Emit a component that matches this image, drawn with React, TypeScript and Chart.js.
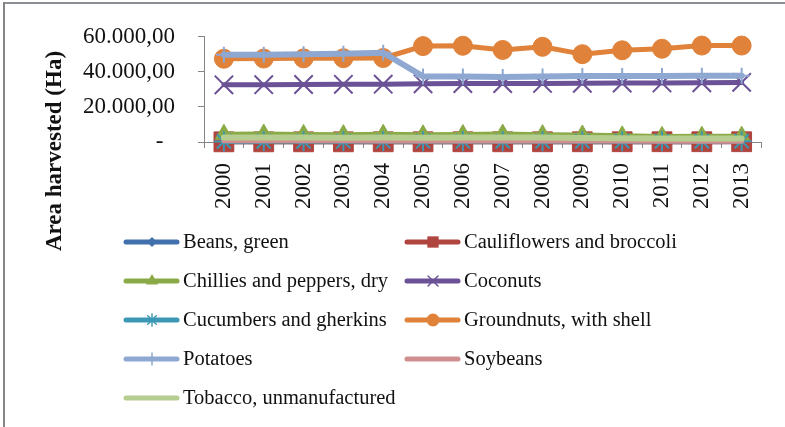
import React, { useEffect, useRef } from "react";
import { Chart, registerables } from "chart.js";

Chart.register(...registerables);

const years = ["2000","2001","2002","2003","2004","2005","2006","2007","2008","2009","2010","2011","2012","2013"];
const beans = [150, 150, 160, 170, 170, 180, 180, 190, 190, 200, 200, 210, 210, 220];
const cauliflowers = [100, 100, 110, 110, 120, 120, 130, 120, 130, 130, 140, 140, 150, 150];
const chillies = [4400, 4500, 4300, 4200, 4400, 4100, 4300, 4500, 4200, 4000, 3500, 3200, 3300, 3300];
const coconuts = [32600, 32700, 32800, 32900, 33000, 33200, 33300, 33300, 33400, 33500, 33600, 33700, 33800, 34000];
const cucumbers = [350, 360, 370, 380, 400, 410, 420, 430, 440, 450, 460, 470, 480, 490];
const groundnuts = [47500, 47600, 47700, 47800, 47900, 54700, 54900, 52500, 54300, 50100, 52300, 53200, 55000, 55000];
const potatoes = [49700, 49800, 50100, 50400, 50900, 37400, 37400, 37100, 37300, 37600, 37700, 37700, 37800, 37800];
const soybeans = [700, 650, 700, 650, 600, 600, 600, 550, 550, 500, 500, 450, 450, 450];
const tobacco = [2500, 2600, 2500, 2400, 2500, 2400, 2500, 2600, 2500, 2300, 2100, 2000, 2000, 2000];

const yTicks = [0, 20000, 40000, 60000];
const yTickLabels = ["-  ", "20.000,00", "40.000,00", "60.000,00"];
const yTitle = "Area harvested (Ha)";

type S = { label: string; data: number[]; color: string; style: string | false; r: number; lr: number; width: number };
const series: S[] = [
  { label: "Beans, green", data: beans, color: "#4170AC", style: "rectRot", r: 8, lr: 5, width: 5 },
  { label: "Cauliflowers and broccoli", data: cauliflowers, color: "#B0443F", style: "rect", r: 14, lr: 8, width: 5 },
  { label: "Chillies and peppers, dry", data: chillies, color: "#8AAA48", style: "triangle", r: 10, lr: 7, width: 5 },
  { label: "Coconuts", data: coconuts, color: "#6B5195", style: "crossRot", r: 13, lr: 7, width: 5 },
  { label: "Cucumbers and gherkins", data: cucumbers, color: "#3C98B3", style: "star", r: 10, lr: 6, width: 5 },
  { label: "Groundnuts, with shell", data: groundnuts, color: "#E0823A", style: "circle", r: 9.5, lr: 6.5, width: 5 },
  { label: "Potatoes", data: potatoes, color: "#8EA8D1", style: "cross", r: 8, lr: 6, width: 6 },
  { label: "Soybeans", data: soybeans, color: "#D08F8E", style: false, r: 0, lr: 0, width: 5 },
  { label: "Tobacco, unmanufactured", data: tobacco, color: "#B5CD8F", style: false, r: 0, lr: 0, width: 6 },
];

function drawMarker(ctx: CanvasRenderingContext2D, style: string | false, x: number, y: number, r: number, color: string) {
  if (!style) return;
  ctx.save();
  ctx.fillStyle = color;
  ctx.strokeStyle = color;
  ctx.lineWidth = 1.5;
  ctx.beginPath();
  if (style === "circle") {
    ctx.arc(x, y, r, 0, Math.PI * 2);
    ctx.fill();
  } else if (style === "rect") {
    const s = r * Math.SQRT1_2;
    ctx.rect(x - s, y - s, 2 * s, 2 * s);
    ctx.fill();
  } else if (style === "rectRot") {
    ctx.moveTo(x, y - r); ctx.lineTo(x + r, y); ctx.lineTo(x, y + r); ctx.lineTo(x - r, y); ctx.closePath();
    ctx.fill();
  } else if (style === "triangle") {
    ctx.moveTo(x, y - r);
    ctx.lineTo(x + r * 0.866, y + r * 0.5);
    ctx.lineTo(x - r * 0.866, y + r * 0.5);
    ctx.closePath();
    ctx.fill();
  } else if (style === "crossRot") {
    const d = r * Math.SQRT1_2;
    ctx.moveTo(x - d, y - d); ctx.lineTo(x + d, y + d);
    ctx.moveTo(x - d, y + d); ctx.lineTo(x + d, y - d);
    ctx.stroke();
  } else if (style === "cross") {
    ctx.moveTo(x, y - r); ctx.lineTo(x, y + r);
    ctx.moveTo(x - r, y); ctx.lineTo(x + r, y);
    ctx.stroke();
  } else if (style === "star") {
    const d = r * Math.SQRT1_2;
    ctx.moveTo(x, y - r); ctx.lineTo(x, y + r);
    ctx.moveTo(x - r, y); ctx.lineTo(x + r, y);
    ctx.moveTo(x - d, y - d); ctx.lineTo(x + d, y + d);
    ctx.moveTo(x - d, y + d); ctx.lineTo(x + d, y - d);
    ctx.stroke();
  }
  ctx.restore();
}

const framePlugin = {
  id: "frame",
  beforeDraw(chart: any) {
    const { ctx, width, height } = chart;
    ctx.save();
    ctx.fillStyle = "#ffffff";
    ctx.fillRect(0, 0, width, height);
    ctx.fillStyle = "#8C8F96";
    ctx.fillRect(3, 2, width - 3, 2);
    ctx.fillStyle = "#858585";
    ctx.fillRect(3, 2, 2, height - 2);
    // y-axis title
    ctx.translate(55, 151);
    ctx.rotate(-Math.PI / 2);
    ctx.fillStyle = "#111111";
    ctx.font = "bold 23px 'Liberation Serif', serif";
    ctx.textAlign = "center";
    ctx.textBaseline = "middle";
    ctx.fillText(yTitle, 0, 0);
    ctx.restore();
  },
};

const legendPlugin = {
  id: "customLegend",
  afterDraw(chart: any) {
    const { ctx } = chart;
    const cols = [124, 405];
    const rows = [242, 281, 320, 359, 398];
    ctx.save();
    series.forEach((s, i) => {
      const x0 = cols[i % 2];
      const y = rows[Math.floor(i / 2)];
      ctx.strokeStyle = s.color;
      ctx.lineWidth = 5;
      ctx.lineCap = "round";
      ctx.beginPath();
      ctx.moveTo(x0 + 2, y);
      ctx.lineTo(x0 + 53, y);
      ctx.stroke();
      drawMarker(ctx, s.style, x0 + 28, y, s.lr, s.color);
      ctx.fillStyle = "#111111";
      ctx.font = "20.5px 'Liberation Serif', serif";
      ctx.textAlign = "left";
      ctx.textBaseline = "middle";
      ctx.fillText(s.label, x0 + 59, y + 1);
    });
    ctx.restore();
  },
};

export default function App() {
  const ref = useRef<HTMLCanvasElement | null>(null);
  useEffect(() => {
    if (!ref.current) return;
    const n = series.length;
    const chart = new Chart(ref.current, {
      type: "line",
      data: {
        labels: years,
        datasets: series.map((s, i) => ({
          label: s.label,
          data: s.data,
          borderColor: s.color,
          backgroundColor: s.color,
          borderWidth: s.width,
          borderCapStyle: "round",
          borderJoinStyle: "round",
          pointStyle: s.style === false ? "circle" : (s.style as any),
          pointRadius: s.style === false ? 0 : s.r,
          pointBorderWidth: s.style === "crossRot" || s.style === "cross" || s.style === "star" ? 2 : 1,
          pointBorderColor: s.color,
          pointBackgroundColor: s.color,
          tension: 0,
          fill: false,
          clip: false,
          order: n - i,
        })),
      },
      options: {
        responsive: false,
        animation: false,
        devicePixelRatio: 1,
        layout: { padding: { left: 0, top: 33, right: 21, bottom: 215 } },
        plugins: { legend: { display: false }, tooltip: { enabled: false } },
        scales: {
          x: {
            offset: true,
            grid: { offset: true, drawOnChartArea: false, drawTicks: true, tickLength: 6, color: "#868686" },
            border: { display: true, color: "#868686", width: 1 },
            ticks: {
              autoSkip: false,
              minRotation: 90,
              maxRotation: 90,
              padding: 15,
              color: "#111111",
              font: { family: "'Liberation Serif', serif", size: 23 },
            },
            afterFit: (scale: any) => { scale.height = 70; },
          },
          y: {
            min: 0,
            max: 60000,
            afterBuildTicks: (scale: any) => { scale.ticks = yTicks.map((v) => ({ value: v })); },
            grid: { drawOnChartArea: false, drawTicks: true, tickLength: 6, color: "#868686" },
            border: { display: true, color: "#868686", width: 1 },
            ticks: {
              padding: 23,
              color: "#111111",
              font: { family: "'Liberation Serif', serif", size: 23 },
              callback: (v: any) => {
                const idx = yTicks.indexOf(Number(v));
                return idx >= 0 ? yTickLabels[idx] : "";
              },
            },
            afterFit: (scale: any) => { scale.width = 204; },
          },
        },
      },
      plugins: [framePlugin, legendPlugin],
    });
    return () => chart.destroy();
  }, []);
  return (
    <div style={{ position: "fixed", left: 0, top: 0, width: 785, height: 427 }}>
      <canvas ref={ref} width={785} height={427} />
    </div>
  );
}
